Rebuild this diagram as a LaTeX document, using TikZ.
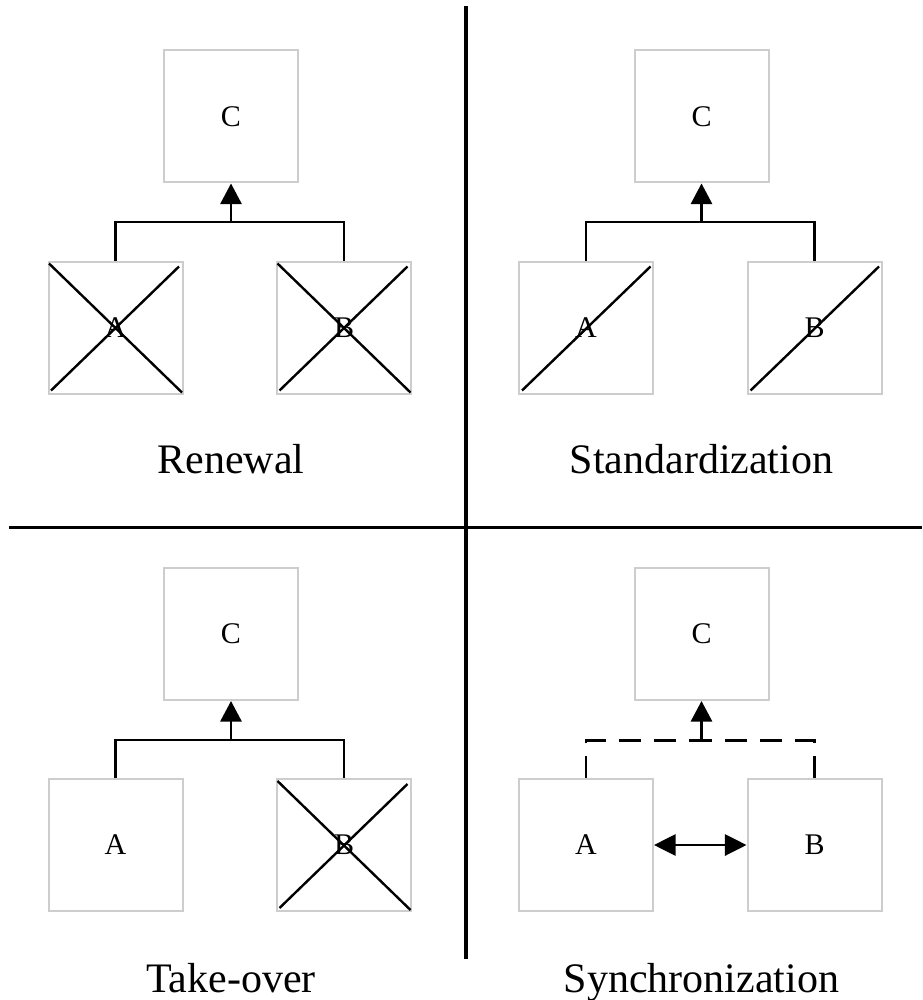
\documentclass[tikz,border=0pt]{standalone}
\usepackage{fontspec}
\setmainfont{Liberation Serif}
\usetikzlibrary{arrows.meta}

\definecolor{boxgray}{RGB}{205,205,205}

\tikzset{
  x=0.5pt, y=-0.5pt,
  unit/.style={draw=boxgray, line width=1pt, minimum width=67pt,
    minimum height=66pt, inner sep=0pt, font=\fontsize{15}{17}\selectfont},
  link/.style={line width=1.2pt, black},
  tip/.style={-{Triangle[length=10.3pt,width=10.6pt]}},
  twotip/.style={{Triangle[length=10.8pt,width=10.6pt]}-{Triangle[length=10.8pt,width=10.6pt]}},
  cut/.style={line width=1.2pt, black},
  syncline/.style={link, dash pattern=on 11pt off 6.5pt},
  divider/.style={line width=1.6pt, black},
  title/.style={font=\fontsize{21}{24}\selectfont, anchor=base},
}

\begin{document}
\begin{tikzpicture}
\useasboundingbox (0,0) rectangle (922,1000);

% quadrant dividers
\coordinate (vtop) at (466,6);
\coordinate (vbot) at (466,959);
\coordinate (hleft) at (9,527.5);
\coordinate (hright) at (922,527.5);
\draw[divider] (vtop) -- (vbot);
\draw[divider] (hleft) -- (hright);

% Renewal: both parts replaced
\node[unit] (rC) at (231,116.5) {C};
\node[unit] (rA) at (115.5,327.5) {A};
\node[unit] (rB) at (344,327.5) {B};
\coordinate (rJ) at (231,222);
\draw[link] (rA.north) |- (rJ) -| (rB.north);
\draw[link,tip] (rJ) -- (rC.south);
\draw[cut] ([shift={(1.5,3)}]rA.north west) -- ([shift={(-1.5,-2)}]rA.south east);
\draw[cut] ([shift={(3.5,-4)}]rA.south west) -- ([shift={(-4.5,6)}]rA.north east);
\draw[cut] ([shift={(1.5,3)}]rB.north west) -- ([shift={(-1.5,-2)}]rB.south east);
\draw[cut] ([shift={(3.5,-4)}]rB.south west) -- ([shift={(-4.5,6)}]rB.north east);
\node[title] (rT) at (231,473) {Renewal};

% Standardization: both parts reduced
\node[unit] (sC) at (701.5,116.5) {C};
\node[unit] (sA) at (586,327.5) {A};
\node[unit] (sB) at (814.5,327.5) {B};
\coordinate (sJ) at (701.5,222);
\draw[link] (sA.north) |- (sJ) -| (sB.north);
\draw[link,tip] (sJ) -- (sC.south);
\draw[cut] ([shift={(4,-4)}]sA.south west) -- ([shift={(-3.5,6)}]sA.north east);
\draw[cut] ([shift={(4,-4)}]sB.south west) -- ([shift={(-3.5,6)}]sB.north east);
\node[title] (sT) at (701.5,473) {Standardization};

% Take-over: B is dropped
\node[unit] (tC) at (231,634) {C};
\node[unit] (tA) at (115.5,845) {A};
\node[unit] (tB) at (344,845) {B};
\coordinate (tJ) at (231,740);
\draw[link] (tA.north) |- (tJ) -| (tB.north);
\draw[link,tip] (tJ) -- (tC.south);
\draw[cut] ([shift={(1.5,3)}]tB.north west) -- ([shift={(-1.5,-2)}]tB.south east);
\draw[cut] ([shift={(3.5,-4)}]tB.south west) -- ([shift={(-4.5,6)}]tB.north east);
\node[title] (tT) at (231,992) {Take-over};

% Synchronization: A and B stay, linked to each other
\node[unit] (yC) at (701.5,634) {C};
\node[unit] (yA) at (586,845) {A};
\node[unit] (yB) at (814.5,845) {B};
\coordinate (yJ) at (701.5,740.5);
\draw[syncline] (yA.north) |- (yJ);
\draw[syncline] (yB.north) |- (yJ);
\draw[link,tip] (yJ) -- (yC.south);
\draw[link,twotip] (yA.east) -- (yB.west);
\node[title] (yT) at (701.5,992) {Synchronization};
\end{tikzpicture}
\end{document}
